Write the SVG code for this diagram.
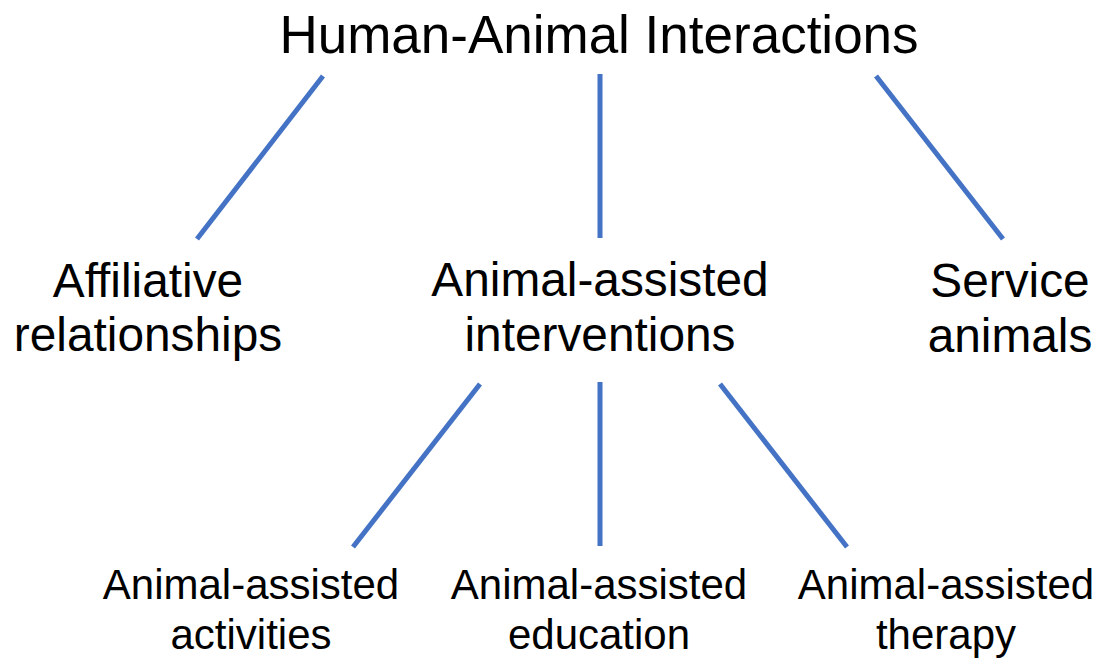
<svg xmlns="http://www.w3.org/2000/svg" width="1099" height="659" viewBox="0 0 1099 659">
<style>
text{font-family:"Liberation Sans",Arial,sans-serif;fill:#000;text-anchor:middle}
.t{font-size:53px}
.m{font-size:47.8px}
.b{font-size:42px}
.c line{stroke:#4472C4;stroke-width:5;stroke-linecap:butt}
</style>
<rect width="1099" height="659" fill="#fff"/>
<g id="connectors" class="c">
<line x1="323" y1="76" x2="197" y2="239"/>
<line x1="600" y1="74" x2="600" y2="238"/>
<line x1="876" y1="76" x2="1003" y2="239"/>
<line x1="480" y1="384" x2="353" y2="547"/>
<line x1="600" y1="382" x2="600" y2="546"/>
<line x1="720" y1="384" x2="847" y2="547"/>
</g>
<g id="root"><text class="t" x="599" y="53">Human-Animal Interactions</text></g>
<g id="affiliative"><text class="m" x="148" y="297">Affiliative</text><text class="m" x="148" y="351">relationships</text></g>
<g id="aai"><text class="m" x="600" y="296">Animal-assisted</text><text class="m" x="600" y="351">interventions</text></g>
<g id="service"><text class="m" x="1010" y="297">Service</text><text class="m" x="1010" y="352">animals</text></g>
<g id="aaa"><text class="b" x="251" y="599">Animal-assisted</text><text class="b" x="251" y="649">activities</text></g>
<g id="aae"><text class="b" x="599" y="599">Animal-assisted</text><text class="b" x="599" y="649">education</text></g>
<g id="aat"><text class="b" x="946" y="599">Animal-assisted</text><text class="b" x="946" y="649">therapy</text></g>
</svg>
